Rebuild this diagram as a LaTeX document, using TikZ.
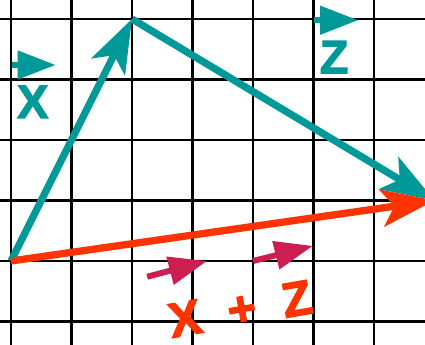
\documentclass[tikz,border=0pt]{standalone}
\usepackage{fontspec}
\newfontfamily\keyfont{Liberation Sans Bold}[FakeBold=2.5]
\usetikzlibrary{arrows.meta}
\definecolor{vteal}{RGB}{0,153,153}
\definecolor{vred}{RGB}{255,51,0}
\definecolor{vpink}{RGB}{204,30,80}

\begin{document}
\begin{tikzpicture}[line width=3.4pt,
    vec/.style={-{Stealth[length=25pt,width=17.5pt,inset=6pt]}},
    key/.style={line width=2.8pt,-{Triangle[length=18pt,width=13pt]}},
    every node/.style={font=\keyfont\fontsize{22}{22}\selectfont,inner sep=0pt}]
    \useasboundingbox (-0.182,-1.372) rectangle (6.843,4.314);
    \clip (-0.182,-1.372) rectangle (6.843,4.314);
    \draw[line width=1pt] (-1,-2) grid (8,5);
    \coordinate (o) at (0,0);
    \coordinate (x) at (2,4);
    \coordinate (s) at (7,1);
    \draw[vec,vteal] (o)--(x);
    \draw[vec,vteal] (x)--(s);
    \draw[vec,vred] (o)--(s);
    % small keys
    \coordinate (xa) at (0.02,3.24);
    \coordinate (xb) at (0.74,3.24);
    \coordinate (za) at (5.01,3.98);
    \coordinate (zb) at (5.74,3.98);
    \draw[key,vteal] (xa)--(xb);
    \draw[key,vteal] (za)--(zb);
    \node[vteal] (xl) at (0.36,2.63) {X};
    \node[vteal] (zl) at (5.34,3.37) {Z};
    \coordinate (pa) at (2.25,-0.26);
    \coordinate (pb) at (3.24,0);
    \coordinate (qa) at (4,0);
    \coordinate (qb) at (4.99,0.25);
    \draw[key,vpink] (pa)--(pb);
    \draw[key,vpink] (qa)--(qb);
    \node[vred,rotate=10,font=\keyfont\fontsize{23}{23}\selectfont] (sl) at (3.79,-0.79) {X\hspace{.55em}+\hspace{.55em}Z};
  \end{tikzpicture}
\end{document}
